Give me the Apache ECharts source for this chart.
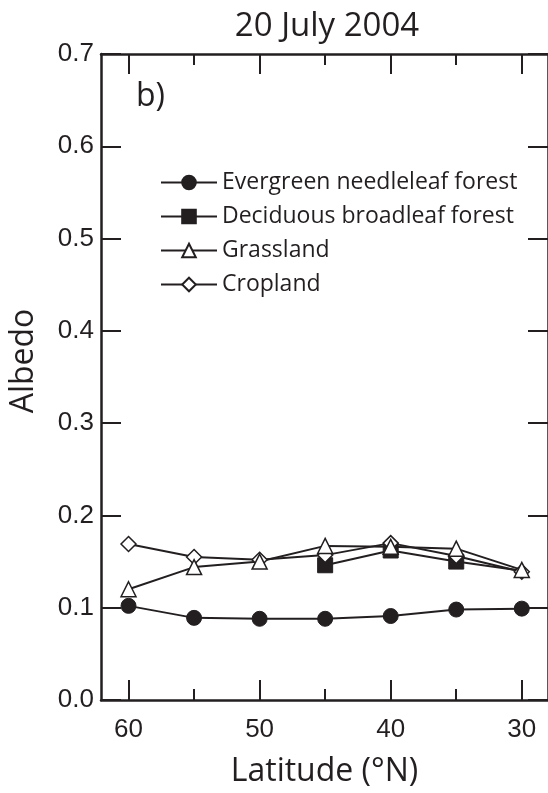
<!DOCTYPE html>
<html>
<head>
<meta charset="utf-8">
<script src="https://cdn.jsdelivr.net/npm/echarts@6/dist/echarts.min.js"></script>
<style>
  html, body { margin: 0; padding: 0; background: #fff; }
  #chart { width: 548px; height: 793px; }
</style>
</head>
<body>
<div id="chart"></div>
<script>
// latitude (°N) of each sample
const latitudes = [60, 55, 50, 45, 40, 35, 30]
const evergreen = [0.102, 0.089, 0.088, 0.088, 0.091, 0.098, 0.099]
const decidLatitudes = [45, 40, 35, 30]
const deciduous = [0.146, 0.162, 0.150, 0.140]
const grassland = [0.120, 0.144, 0.150, 0.167, 0.166, 0.164, 0.141]
const cropland = [0.169, 0.155, 0.152, 0.157, 0.170, 0.156, 0.139]

const majorTicks = [30, 40, 50, 60]
const minorTicks = [35, 45, 55]

const ink = '#231f20'
const chart = echarts.init(document.getElementById('chart'))

const pairs = (xs, ys) => xs.map((x, i) => [x, ys[i]])

// x axes: bottom/top, major and minor ticks on separate axes
const xBase = { type: 'value', min: 28, max: 62.1, inverse: true, splitLine: { show: false } }
const xAxis = [
  {
    ...xBase, position: 'bottom',
    axisLine: { show: true, lineStyle: { color: ink, width: 2.5 } },
    axisTick: { show: true, inside: true, length: 20, customValues: majorTicks, lineStyle: { color: ink, width: 2 } },
    axisLabel: { customValues: majorTicks, fontSize: 26, margin: 17, color: ink, fontFamily: 'Liberation Sans' },
    name: 'Latitude (°N)', nameLocation: 'middle', nameGap: 56,
    nameTextStyle: { fontSize: 32, color: ink, fontFamily: 'Open Sans' }
  },
  {
    ...xBase, position: 'bottom',
    axisLine: { show: false },
    axisTick: { show: true, inside: true, length: 11, customValues: minorTicks, lineStyle: { color: ink, width: 2 } },
    axisLabel: { show: false }
  },
  {
    ...xBase, position: 'top',
    axisLine: { show: true, lineStyle: { color: ink, width: 2.5 } },
    axisTick: { show: true, inside: true, length: 20, customValues: majorTicks, lineStyle: { color: ink, width: 2 } },
    axisLabel: { show: false }
  },
  {
    ...xBase, position: 'top',
    axisLine: { show: false },
    axisTick: { show: true, inside: true, length: 11, customValues: minorTicks, lineStyle: { color: ink, width: 2 } },
    axisLabel: { show: false }
  }
]

const yBase = {
  type: 'value', min: 0, max: 0.7, interval: 0.1, splitLine: { show: false },
  axisLine: { show: true, lineStyle: { color: ink, width: 2.5 } },
  axisTick: { show: true, inside: true, length: 20, lineStyle: { color: ink, width: 2 } }
}
const yAxis = [
  {
    ...yBase, position: 'left',
    axisLabel: { fontSize: 26, margin: 7, color: ink, fontFamily: 'Liberation Sans', formatter: v => v.toFixed(1) }
  },
  { ...yBase, position: 'right', axisLabel: { show: false } }
]

const lineStyle = { color: ink, width: 2 }
const filled = { color: ink, borderColor: ink, borderWidth: 1 }
const hollow = { color: '#fff', borderColor: ink, borderWidth: 1.5 }

const option = {
  animation: false,
  title: {
    text: '20 July 2004', left: 322, top: 5, textAlign: 'center',
    textStyle: { fontSize: 33, fontWeight: 'normal', color: ink, fontFamily: 'Open Sans' }
  },
  legend: {
    orient: 'vertical', left: 155, top: 166,
    itemWidth: 56, itemHeight: 17, itemGap: 11,
    textStyle: { fontSize: 23, color: ink, fontFamily: 'Open Sans' },
    data: ['Evergreen needleleaf forest', 'Deciduous broadleaf forest', 'Grassland', 'Cropland']
  },
  grid: { left: 101, right: -2, top: 54, bottom: 89 },
  xAxis,
  yAxis,
  graphic: [
    {
      type: 'text', x: 136, y: 81,
      style: { text: 'b)', fontSize: 32, fill: ink, fontFamily: 'Open Sans' }
    },
    {
      type: 'text', x: 24, y: 361, rotation: Math.PI / 2,
      style: { text: 'Albedo', fontSize: 32, fill: ink, fontFamily: 'Open Sans', textAlign: 'center', textVerticalAlign: 'middle' }
    }
  ],
  series: [
    {
      name: 'Evergreen needleleaf forest', type: 'line',
      data: pairs(latitudes, evergreen),
      symbol: 'circle', symbolSize: 15, lineStyle, itemStyle: filled
    },
    {
      name: 'Deciduous broadleaf forest', type: 'line',
      // last point hidden under the other markers
      data: pairs(decidLatitudes, deciduous).map((d, i, a) => i === a.length - 1 ? { value: d, symbolSize: 0 } : d),
      symbol: 'rect', symbolSize: 15, lineStyle, itemStyle: filled
    },
    {
      name: 'Cropland', type: 'line',
      data: pairs(latitudes, cropland),
      symbol: 'diamond', symbolSize: 15, lineStyle, itemStyle: hollow
    },
    {
      name: 'Grassland', type: 'line',
      data: pairs(latitudes, grassland),
      symbol: 'triangle', symbolSize: 15, lineStyle, itemStyle: hollow
    }
  ]
}

chart.setOption(option)
</script>
</body>
</html>
